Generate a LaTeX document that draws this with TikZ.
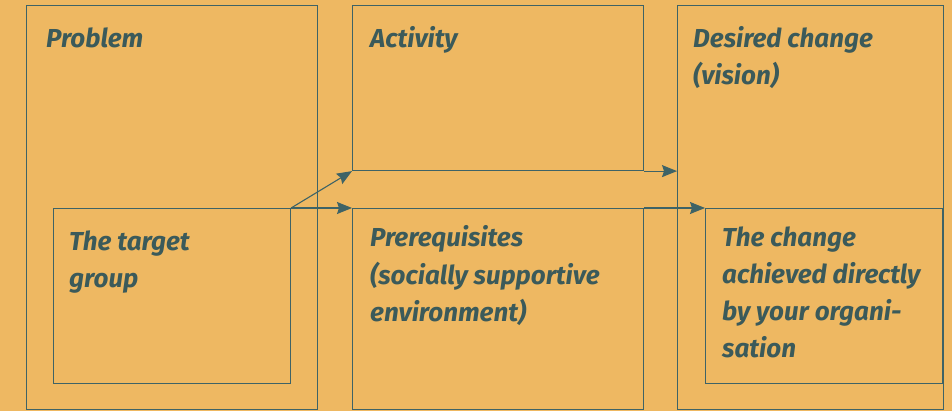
\documentclass[tikz,border=0pt]{standalone}
\usepackage{fontspec}
\setmainfont{Fira Sans}
\usetikzlibrary{arrows.meta}
\definecolor{bg}{HTML}{EEB862}
\definecolor{edge}{HTML}{3E6366}
\definecolor{ink}{HTML}{3B5A5A}
\tikzset{
  box/.style={draw=edge, line width=1.1pt, anchor=north west, inner sep=0pt},
  label/.style={anchor=base west, align=left, inner sep=0pt, text=ink,
    font=\fontsize{26}{37}\selectfont\bfseries\itshape},
  link/.style={draw=edge, line width=1.1pt, -{Stealth[length=15pt,width=12pt,inset=2pt]}}
}
\begin{document}
\begin{tikzpicture}[x=1pt,y=-1pt]
  \fill[bg] (0,0) rectangle (952,411);
  \useasboundingbox (0,0) rectangle (952,411);
  % outer columns
  \node[box, minimum width=291pt, minimum height=404pt] (problem) at (26,5) {};
  \node[box, minimum width=291pt, minimum height=165pt] (activity) at (352,5) {};
  \node[box, minimum width=291pt, minimum height=201pt] (prereq) at (352,208) {};
  \node[box, minimum width=266pt, minimum height=404pt] (desired) at (677,5) {};
  % inner boxes
  \node[box, minimum width=237pt, minimum height=175pt] (target) at (53,208) {};
  \node[box, minimum width=237pt, minimum height=175pt] (change) at (705,208) {};
  % titles (anchored on the baseline of their last line)
  \node[label] (tproblem) at (46,48) {Problem};
  \node[label] (tactivity) at (370,48) {Activity};
  \node[label] (tdesired) at (693,85) {Desired change\\(vision)};
  \node[label] (ttarget) at (69,288) {The target\\group};
  \node[label] (tprereq) at (370,321) {Prerequisites\\(socially supportive\\environment)};
  \node[label] (tchange) at (722,357) {The change\\achieved directly\\by your organi-\\sation};
  % connectors
  \draw[link] (target.north east) -- (activity.south west);
  \draw[link] (target.north east) -- (prereq.north west);
  \draw[link] (activity.south east) -- (desired.west |- activity.south);
  \draw[link] (prereq.north east) -- (change.north west);
\end{tikzpicture}
\end{document}
